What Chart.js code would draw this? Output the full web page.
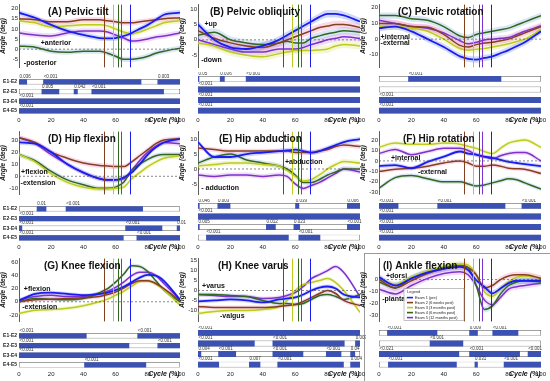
<!DOCTYPE html>
<html>
<head>
<meta charset="utf-8">
<script src="https://cdn.jsdelivr.net/npm/chart.js@4.4.0/dist/chart.umd.min.js"></script>
<style>
  body { margin: 0; background: #fff; }
  #fig { position: relative; width: 550px; height: 381px; overflow: hidden; }
  #fig canvas { position: absolute; }
  #boxI { position: absolute; left: 364px; top: 253px; width: 185px; height: 127px; border: 1px solid #9a9a9a; }
</style>
</head>
<body>
<div id="fig"><div id="boxI"></div></div>
<script>
// gait cycle positions (%) where the curves were read
var cycle = [0, 10, 20, 30, 40, 50, 55, 60, 65, 70, 75, 80, 85, 90, 100];
var exams = ['Exam 1 (pre)', 'Exam 2 (6 weeks post)', 'Exam 3 (3 months post)', 'Exam 4 (6 months post)', 'Exam 5 (12 months post)'];
var toeOff = [69, 52.5, 58.3, 61.7, 63.5];
var pairs = ['E1-E2', 'E2-E3', 'E3-E4', 'E4-E5'];
var xTicks = [0, 20, 40, 60, 80, 100];

// mean curves, one list per exam (E1..E5)
var pelvicTilt = [
  [18, 15.5, 12, 9, 7, 5.5, 5.3, 5.5, 6.5, 8, 10, 12, 14.5, 17, 18],
  [15, 14.5, 13.5, 13.5, 14.5, 14.5, 14, 13.5, 13, 13, 13.5, 14, 14.5, 15, 15.5],
  [14, 13, 11, 11.5, 12, 12, 11.5, 10, 8.5, 7.5, 8.5, 10, 11.5, 13, 14],
  [1.5, 1, -1, -1.5, -1, -1, -2, -3.5, -5, -5, -4.5, -3.5, -2, -1, 0.5],
  [8, 7, 6.5, 8, 9, 9, 8.5, 7, 5.5, 4, 4.3, 5, 6, 6.5, 8]
];
var pelvicObliquity = [
  [5, 0, -2.5, -3, -2, 0, 1.5, 3, 4.5, 6, 7.5, 8.5, 8.5, 8, 6],
  [3, 0.5, -1, -2, -2.5, -1, 0, 1, 2, 3, 4, 4.5, 5, 5, 4],
  [-1, -2, -4, -5, -5.5, -4.5, -4, -3.5, -3.5, -3.5, -3.3, -3, -2, -1.5, -2],
  [1.5, 2.5, 0, -1, -1.5, -1, -0.5, -1, -1, 0.5, 1.3, 2, 2.5, 3, 2.5],
  [0, -1.5, -3, -4, -4, -3, -3, -3, -2.5, -1.5, -0.8, 0, 0.5, 1, 0.5]
];
var pelvicRotation = [
  [7, 8, 5, 0, -5, -11, -12.5, -13, -12, -11, -9, -7, -4.5, -2, 5],
  [10, 10, 8, 7.5, 3, -4, -5, -3.5, -2.5, -2, -1, 0, 2, 4, 8],
  [8, 8, 7, 5, 0, -6, -7, -6.5, -6, -5, -4, -3, -1.5, 0, 6],
  [15, 15, 13, 12, 8, 2, 1, 3, 4, 5, 6, 7, 9, 11, 15],
  [12, 10, 8, 7, 4, -1, -3, -2, -0.5, 0, 0.5, 1, 3, 5, 8.5]
];
var hipFlexion = [
  [28, 27, 20, 10, 3, -2, -3, -3, -1, 3, 10, 18, 24, 28, 31],
  [32, 28, 20, 15, 11, 9, 8.5, 8, 8, 12, 17, 22, 27, 30, 31],
  [18, 12, 2, -5, -9, -10.5, -10.5, -10, -9, -2, 3, 8, 12, 15, 17],
  [18, 13, 4, -3, -7, -10, -10, -9, -5, 5, 10, 14, 17, 18, 18],
  [32, 27, 18, 10, 3, -2, -3, -3, -2, 5, 13, 20, 25, 28, 27]
];
var hipAbduction = [
  [9, 4, 4, 5, 5.5, 6, 6.2, 6.5, 6, 5.5, 6, 7, 8, 9, 10],
  [7, 6.5, 6, 6, 6, 6, 6, 5.5, 5.5, 5.5, 6, 6.5, 7.5, 8, 7.5],
  [1, 1.5, 2, 2, 1.5, 1, -0.5, -2.5, -4, -3.5, -2, 0, 1.5, 2.5, 2],
  [2, 4, 5, 3, 2, 1, 0, -2, -4.5, -4.5, -3.5, -2, -1, 0, 0],
  [-2, -2.5, -2, -2, -2.5, -2, -2.5, -5, -6.5, -5.5, -4.5, -3, -1.5, 0, -1]
];
var hipRotation = [
  [-5, -4, -7, -1, 4, 9, 7, 6, 4, 3, 1, -1, -2, -3, -5],
  [-10, -8, -7, -5, -2, 0, -2, -5, -5, -4, -5, -7, -7.5, -8, -12],
  [13, 17, 16, 16, 17, 16, 14, 12, 9, 7, 12, 17, 19, 20, 13],
  [-26, -16, -14, -17, -20, -20, -22, -24, -23, -21, -19, -17, -18, -21, -27],
  [7, 11, 6, 9, 12, 12, 10, 6, 4, 2, 5, 7, 8, 8, 0]
];
var kneeFlexion = [
  [2, 12, 14, 12, 10, 12, 14, 18, 23, 30, 37, 41, 40, 32, 3],
  [0, 3, 4, 5, 6, 8, 11, 15, 21, 28, 32, 32, 28, 20, 2],
  [-18, -13, -12, -10, -6, 0, 4, 10, 16, 24, 31, 32, 27, 18, -5],
  [0, 5, 4, 3, 5, 14, 20, 30, 42, 55, 54, 46, 32, 18, 0],
  [3, 8, 10, 8, 8, 12, 16, 22, 30, 40, 45, 45, 40, 28, 3]
];
var kneeVarus = [
  [-5.5, -5, -4.5, -5, -6, -4.5, -4, -3.5, -2, 0, 1.5, 2, 1, -2, -3.5],
  [-8, -8.5, -8.5, -8.5, -8.5, -8, -7.5, -7, -5.5, -3.5, -1.5, 0, -1.5, -5, -7.5],
  [-11.5, -10.5, -10, -10, -9.5, -8, -5, 0, 3, 4, 5, 6, 4, 0, -11],
  [-2, -2, -2.5, -3, -5, -6.5, -6.5, -7, -6.5, -4.5, -2.5, -2, -3, -4.5, -2],
  [-2, -2.5, -3, -3, -4, -3.5, -2.5, -1, 2, 6, 8, 10, 12, 9, -3]
];
var ankleFlexion = [
  [2, -5, 1, 6, 9, 10.5, 8, -0.5, -6, -11.5, -7.5, -3, -1, -1, -1],
  [0, -7, -1, 5, 9, 11, 10, 4, -7, -5, 0, 3, 4, 4, 1],
  [0, -4, 2, 7, 11, 13, 12, 4, -10, -14, -8, -2, 2, 3, 1],
  [-2, -7, 1, 6, 10, 12, 10, -5, -25, -22, -12, -5, -2, -1, -2],
  [-8, -12, -5, 1, 5, 6.5, 4, -5, -17, -21, -15, -8, -6, -5, -3]
];

// half width of the shaded band around each mean curve, per panel
var bandSd = [1.3, 1.2, 2, 2, 0.8, 2, 3, 1, 2.5];

// y tick labels per panel
var tiltTicks = [-5, 0, 5, 10, 15, 20];
var obliquityTicks = [-5, 0, 5, 10];
var pelRotTicks = [-10, 0, 10, 20];
var hipFlexTicks = [-10, 0, 10, 20, 30];
var abdTicks = [-5, 0, 5, 10];
var hipRotTicks = [-30, -20, -10, 0, 10, 20];
var kneeFlexTicks = [-20, 0, 20, 40, 60];
var varusTicks = [-10, -5, 0, 5, 10, 15];
var ankleTicks = [-30, -20, -10, 0];

// significant stretches [from %, to %, p] for E1-E2 .. E4-E5
var tiltSig = [
  [[0, 5, '0.036'], [15, 76, '<0.001'], [86, 100, '0.003']],
  [[14, 25, '0.005'], [34, 36.5, '0.042'], [45, 90, '<0.001']],
  [[0, 100, '<0.001']],
  [[0, 100, '<0.001']]
];
var obliquitySig = [
  [[0, 0.8, '0.05'], [13.5, 16.5, '0.036'], [29.5, 100, '<0.001']],
  [[0, 100, '<0.001']],
  [[0, 100, '<0.001']],
  [[0, 100, '<0.001']]
];
var pelRotSig = [
  [[18, 75.5, '<0.001']],
  [],
  [[0, 100, '<0.001']],
  [[0, 100, '<0.001']]
];
var hipFlexSig = [
  [[11, 17, '0.01'], [29, 77, '<0.001']],
  [[0, 100, '<0.001']],
  [[0, 2, '<0.001'], [66, 89, '<0.001'], [98, 100, '0.015']],
  [[0, 65, '<0.001'], [73, 100, '<0.001']]
];
var abdSig = [
  [[0, 1, '0.046'], [12, 20, '0.003'], [60, 62.5, '0.039'], [92, 100, '0.006']],
  [[0, 100, '<0.001']],
  [[0, 1, '0.005'], [42, 48, '0.012'], [59, 63, '0.023'], [92, 100, '<0.001']],
  [[5, 56, '<0.001'], [62, 75.5, '<0.001']]
];
var hipRotSig = [
  [[0, 12, '<0.001'], [36, 78, '<0.001'], [88, 100, '<0.001']],
  [[0, 100, '<0.001']],
  [[0, 100, '<0.001']],
  [[0, 100, '<0.001']]
];
var kneeFlexSig = [
  [[0, 42, '<0.001'], [73.5, 100, '<0.001']],
  [[0, 68.5, '<0.001'], [86, 100, '<0.001']],
  [[0, 100, '<0.001']],
  [[40.5, 79, '<0.001']]
];
var varusSig = [
  [[0, 100, '<0.001']],
  [[0, 35, '<0.001'], [46, 90.5, '<0.001'], [97, 100, '0.007']],
  [[0, 2, '0.004'], [12.5, 23.5, '<0.001'], [46, 65, '<0.001'], [79, 88.5, '<0.001'], [94, 97, '0.04']],
  [[0, 13, '<0.001'], [31.5, 38.5, '0.007'], [49, 90, '<0.001'], [94, 100, '0.004']]
];
var ankleSig = [
  [[5, 36, '<0.001'], [55.7, 61, '0.009'], [70, 86, '<0.001']],
  [[31.3, 52, '<0.001']],
  [[0, 49.5, '<0.021'], [55.7, 87, '<0.001'], [91.8, 100, '<0.001']],
  [[5.6, 48, '<0.001'], [59, 61, '0.031'], [77, 100, '<0.001']]
];

var lineColors = ['#1c1cf0', '#83401f', '#bccb1e', '#33661f', '#7b33cc'];
var bandColors = ['rgba(90,120,240,0.28)', 'rgba(240,120,175,0.28)', 'rgba(215,225,90,0.28)',
                  'rgba(120,165,215,0.28)', 'rgba(200,125,235,0.28)'];
var FONT = '"Liberation Sans", Arial, sans-serif';

var panels = [
  {title: '(A) Pelvic tilt', series: pelvicTilt, ticks: tiltTicks, sig: tiltSig, yMin: -9, yMax: 22, dx: 29,
   notes: [['+anterior', 13.5, 3], ['-posterior', 3, -7]]},
  {title: '(B) Pelvic obliquity', series: pelvicObliquity, ticks: obliquityTicks, sig: obliquitySig, yMin: -9, yMax: 11.5, dx: 12,
   notes: [['+up', 4, 5], ['-down', 2, -6.5]]},
  {title: '(C) Pelvic rotation', series: pelvicRotation, ticks: pelRotTicks, sig: pelRotSig, yMin: -18, yMax: 22, dx: 19,
   notes: [['+internal', 1, 1.5], ['-external', 1, -2.5]]},
  {title: '(D) Hip flexion', series: hipFlexion, ticks: hipFlexTicks, sig: hipFlexSig, yMin: -15, yMax: 37, dx: 29,
   notes: [['+flexion', 1.3, 3.4], ['-extension', 1, -5.3]]},
  {title: '(E) Hip abduction', series: hipAbduction, ticks: abdTicks, sig: abdSig, yMin: -8.5, yMax: 12.5, dx: 21,
   notes: [['+abduction', 53.7, 2.4], ['- adduction', 2, -6.3]]},
  {title: '(F) Hip rotation', series: hipRotation, ticks: hipRotTicks, sig: hipRotSig, yMin: -32, yMax: 28, dx: 24,
   notes: [['+internal', 7.4, 2.6], ['-external', 24, -11]]},
  {title: '(G) Knee flexion', series: kneeFlexion, ticks: kneeFlexTicks, sig: kneeFlexSig, yMin: -30, yMax: 66, dx: 25,
   notes: [['+flexion', 3, 20], ['-extension', 2, -8.6]]},
  {title: '(H) Knee varus', series: kneeVarus, ticks: varusTicks, sig: varusSig, yMin: -15.5, yMax: 16, dx: 20,
   notes: [['+varus', 2.5, 2], ['-valgus', 13.6, -13]]},
  {title: '(I) Ankle flexion', series: ankleFlexion, ticks: ankleTicks, sig: ankleSig, yMin: -35, yMax: 17.5, dx: 4,
   notes: [['+dorsi', 4.3, 3], ['-plantar', 2, -16.5]], legend: true}
];

var plotLeft = [19, 198, 379], plotRight = [180, 360, 541], rowTop = [0, 127, 254];
var axisW = 20, padR = 6;

function makeCanvas(left, top, w, h) {
  var cv = document.createElement('canvas');
  cv.width = w; cv.height = h;
  cv.style.left = left + 'px'; cv.style.top = top + 'px';
  cv.style.width = w + 'px'; cv.style.height = h + 'px';
  document.getElementById('fig').appendChild(cv);
  return cv;
}

var lineDeco = {
  id: 'lineDeco',
  afterDatasetsDraw: function (chart, args, opts) {
    var p = opts.panel, c = chart.ctx, a = chart.chartArea;
    var xs = chart.scales.x, ys = chart.scales.y;
    c.save();
    var y0 = ys.getPixelForValue(0);
    c.setLineDash([2, 2]); c.strokeStyle = '#555'; c.lineWidth = 0.7;
    c.beginPath(); c.moveTo(a.left, y0); c.lineTo(a.right, y0); c.stroke();
    c.setLineDash([]);
    toeOff.forEach(function (t, e) {
      var x = Math.round(xs.getPixelForValue(t)) + 0.5;
      c.strokeStyle = lineColors[e]; c.lineWidth = 1;
      c.beginPath(); c.moveTo(x, a.top); c.lineTo(x, a.bottom); c.stroke();
    });
    c.fillStyle = '#111'; c.textAlign = 'left'; c.textBaseline = 'middle';
    c.font = 'bold 10px ' + FONT;
    c.fillText(p.title, a.left + p.dx, a.top + 8);
    c.font = 'bold 7px ' + FONT;
    p.notes.forEach(function (n) {
      c.fillText(n[0], xs.getPixelForValue(n[1]), ys.getPixelForValue(n[2]));
    });
    if (p.legend) {
      var lx = a.left + 25, ly = a.top + 30;
      c.fillStyle = 'rgba(255,255,255,0.85)'; c.strokeStyle = '#999'; c.lineWidth = 0.6;
      c.fillRect(lx, ly, 60, 32); c.strokeRect(lx, ly, 60, 32);
      c.fillStyle = '#333'; c.font = '4px ' + FONT;
      c.fillText('Legend', lx + 3, ly + 3.5);
      exams.forEach(function (name, e) {
        var yy = ly + 9 + e * 5;
        c.strokeStyle = lineColors[e]; c.lineWidth = 1.6;
        c.beginPath(); c.moveTo(lx + 3, yy); c.lineTo(lx + 9, yy); c.stroke();
        c.fillStyle = '#222'; c.font = '3.8px ' + FONT;
        c.fillText(name, lx + 11, yy);
      });
    }
    c.restore();
  }
};

var sigDeco = {
  id: 'sigDeco',
  afterDatasetsDraw: function (chart, args, opts) {
    var c = chart.ctx, xs = chart.scales.x, ys = chart.scales.y;
    var h = ys.height / pairs.length * 0.55;
    c.save();
    c.font = '4.5px ' + FONT; c.fillStyle = '#333'; c.textAlign = 'left'; c.textBaseline = 'bottom';
    opts.sig.forEach(function (row, r) {
      var yc = ys.getPixelForValue(r);
      row.forEach(function (s) {
        c.fillText(s[2], xs.getPixelForValue(s[0]) + 0.5, yc - h / 2 - 0.2);
      });
    });
    c.font = 'italic bold 7px ' + FONT; c.fillStyle = '#111'; c.textAlign = 'center'; c.textBaseline = 'top';
    c.fillText('Cycle (%)', xs.getPixelForValue(90), xs.top + 0.5);
    c.restore();
  }
};

panels.forEach(function (p, i) {
  var col = i % 3, row = Math.floor(i / 3);
  var left = plotLeft[col] - axisW;
  var width = plotRight[col] - left + padR;

  // --- angle curves ---
  var ds = [];
  p.series.forEach(function (vals, e) {
    ds.push({
      data: vals.map(function (v, k) { return {x: cycle[k], y: v + bandSd[i]}; }),
      borderWidth: 0, pointRadius: 0, fill: '+1', backgroundColor: bandColors[e],
      cubicInterpolationMode: 'monotone', order: 3
    });
    ds.push({
      data: vals.map(function (v, k) { return {x: cycle[k], y: v - bandSd[i]}; }),
      borderWidth: 0, pointRadius: 0, fill: false, cubicInterpolationMode: 'monotone', order: 3
    });
  });
  p.series.forEach(function (vals, e) {
    ds.push({
      label: exams[e],
      data: vals.map(function (v, k) { return {x: cycle[k], y: v}; }),
      borderColor: lineColors[e], borderWidth: e === 0 ? 1.8 : 1.5, pointRadius: 0, fill: false,
      cubicInterpolationMode: 'monotone', order: 1
    });
  });

  new Chart(makeCanvas(left, rowTop[row], width, 72), {
    type: 'line',
    data: {datasets: ds},
    options: {
      responsive: false, animation: false,
      layout: {padding: {top: 2, bottom: 2, right: padR, left: 0}},
      plugins: {legend: {display: false}, tooltip: {enabled: false}, lineDeco: {panel: p}},
      scales: {
        x: {type: 'linear', min: 0, max: 100, display: false},
        y: {
          min: p.yMin, max: p.yMax,
          afterBuildTicks: function (s) { s.ticks = p.ticks.map(function (v) { return {value: v}; }); },
          afterFit: function (s) { s.width = axisW; },
          grid: {display: false, drawTicks: false},
          border: {display: true, color: '#333', width: 0.8},
          ticks: {font: {size: 6, family: FONT}, color: '#222', padding: 1},
          title: {display: true, text: 'Angle (deg)', padding: 0, color: '#222',
                  font: {size: 6.5, family: FONT, style: 'italic', weight: 'bold'}}
        }
      }
    },
    plugins: [lineDeco]
  });

  // --- significance bars ---
  var bds = [{
    data: pairs.map(function () { return [0, 100]; }),
    backgroundColor: '#fff', borderColor: '#5a5a5a', borderWidth: 0.7, borderSkipped: false,
    grouped: false, barPercentage: 0.55, categoryPercentage: 1, order: 5
  }];
  var maxSeg = Math.max.apply(null, p.sig.map(function (r) { return r.length; }));
  for (var k = 0; k < maxSeg; k++) {
    bds.push({
      data: p.sig.map(function (r) { return r[k] ? [r[k][0], r[k][1]] : null; }),
      backgroundColor: '#3c52b2', borderWidth: 0, grouped: false,
      barPercentage: 0.55, categoryPercentage: 1, order: 1
    });
  }

  new Chart(makeCanvas(left, rowTop[row] + 72, width, 53), {
    type: 'bar',
    data: {labels: pairs, datasets: bds},
    options: {
      indexAxis: 'y', responsive: false, animation: false,
      layout: {padding: {top: 1.7, bottom: 0, right: padR, left: 0}},
      plugins: {legend: {display: false}, tooltip: {enabled: false}, sigDeco: {sig: p.sig}},
      scales: {
        x: {
          type: 'linear', min: 0, max: 100,
          afterBuildTicks: function (s) { s.ticks = xTicks.map(function (v) { return {value: v}; }); },
          grid: {display: false, drawTicks: false}, border: {display: false},
          ticks: {font: {size: 6, family: FONT}, color: '#222', padding: 1}
        },
        y: {
          afterFit: function (s) { s.width = axisW; },
          grid: {display: false, drawTicks: false}, border: {display: false},
          ticks: {display: col === 0, font: {size: 5, family: FONT, weight: 'bold'}, color: '#222', padding: 2}
        }
      }
    },
    plugins: [sigDeco]
  });
});
</script>
</body>
</html>
